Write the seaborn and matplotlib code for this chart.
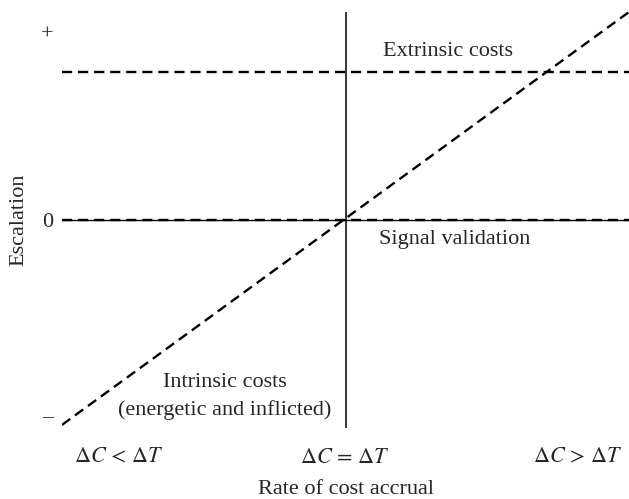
import matplotlib
matplotlib.use("Agg")
import matplotlib.pyplot as plt
import seaborn as sns
import pandas as pd

# Data
x_range = [-1.0, 1.0]
escalation_diag = [-0.985, 1.0]
extrinsic_level = [0.71, 0.71]
signal_level = [0.0, 0.0]
x_tick_pos = [-0.80, 0.0, 0.82]
x_tick_labels = [r"$\Delta C\,<\,\Delta T$", r"$\Delta C\,=\,\Delta T$", r"$\Delta C\,>\,\Delta T$"]
y_tick_pos = [0.90, 0.0, -0.94]
y_tick_labels = ["+", "0", "–"]

sns.set_style("white")
plt.rcParams["font.family"] = ["Liberation Serif", "DejaVu Serif"]
plt.rcParams["mathtext.fontset"] = "stix"

FS = 16
fig = plt.figure(figsize=(6.29, 4.99), dpi=100)
ax = fig.add_axes([62/629, 1-428/499, 1-62/629, (428-12)/499])

df_diag = pd.DataFrame({"x": x_range, "y": escalation_diag})
df_ext = pd.DataFrame({"x": x_range, "y": extrinsic_level})
df_sig = pd.DataFrame({"x": x_range, "y": signal_level})

ax.axhline(0, color="black", lw=1.0, zorder=1)
ax.axvline(0, color="black", lw=1.1, zorder=1)
dash = (4.3, 2.5)
for d in (df_diag, df_ext, df_sig):
    sns.lineplot(data=d, x="x", y="y", ax=ax, color="black", lw=1.7, zorder=2)
    ax.lines[-1].set_dashes(dash)

ax.set_xlim(-1, 1)
ax.set_ylim(-1.0, 1.0)
for s in ax.spines.values():
    s.set_visible(False)

ax.set_xticks(x_tick_pos)
ax.set_xticklabels(x_tick_labels, fontsize=FS)
ax.set_yticks(y_tick_pos)
ax.set_yticklabels(y_tick_labels, fontsize=FS)
ax.tick_params(axis="x", length=0, pad=15)
ax.tick_params(axis="y", length=0, pad=6)
ax.set_xlabel("Rate of cost accrual", fontsize=FS, labelpad=9)
ax.set_ylabel("Escalation", fontsize=FS, labelpad=9)

ax.text(0.36, 0.81, "Extrinsic costs", ha="center", va="center", fontsize=FS)
ax.text(0.385, -0.096, "Signal validation", ha="center", va="center", fontsize=FS)
ax.text(-0.427, -0.78, "Intrinsic costs", ha="center", va="center", fontsize=FS)
ax.text(-0.427, -0.915, "(energetic and inflicted)", ha="center", va="center", fontsize=FS)

fig.savefig("out.png", dpi=100)
